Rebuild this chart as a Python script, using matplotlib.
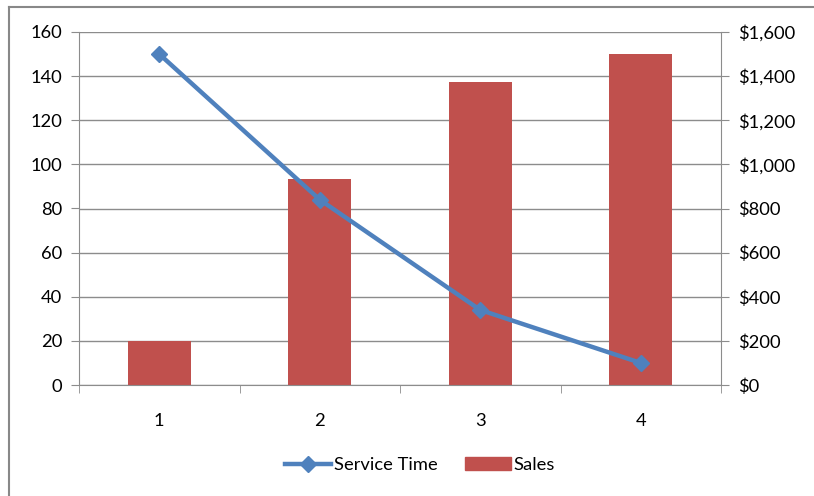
import matplotlib
matplotlib.use("Agg")
import matplotlib.pyplot as plt
from matplotlib.lines import Line2D
from matplotlib.patches import Patch
from matplotlib.ticker import FuncFormatter

categories = [1, 2, 3, 4]
service_time = [150, 84, 34, 10]
sales = [200, 935, 1375, 1500]
left_ticks = [0, 20, 40, 60, 80, 100, 120, 140, 160]
right_ticks = [0, 200, 400, 600, 800, 1000, 1200, 1400, 1600]

plt.rcParams['font.family'] = ['Lato', 'DejaVu Sans']

W, H = 814, 496
fig = plt.figure(figsize=(W / 100, H / 100), dpi=100)
ax = fig.add_axes([79 / W, 1 - 385 / H, (721 - 79) / W, (385 - 32) / H])
ax2 = ax.twinx()

line_col = '#4F81BD'
bar_col = '#C0504D'
grid_col = '#8C8C8C'
fs = 13.2

ax2.bar(categories, sales, width=0.39, color=bar_col, zorder=2)
ax2.set_ylim(0, 1600)
ax2.set_yticks(right_ticks)
ax2.yaxis.set_major_formatter(FuncFormatter(lambda v, p: f"${int(v):,}"))
ax2.grid(axis='y', color=grid_col, linewidth=1.0, zorder=0)
ax2.set_axisbelow(True)

ax.plot(categories, service_time, color=line_col, linewidth=3.2,
        marker='D', markersize=8, zorder=3)
ax.set_ylim(0, 160)
ax.set_yticks(left_ticks)
ax.set_xlim(0.5, 4.5)
ax.set_xticks(categories)
ax.set_xticks([0.5, 1.5, 2.5, 3.5, 4.5], minor=True)
ax.set_zorder(ax2.get_zorder() + 1)
ax.patch.set_visible(False)

for a in (ax, ax2):
    for s in a.spines.values():
        s.set_visible(False)

ax.spines['left'].set_visible(True)
ax.spines['left'].set_color(grid_col)
ax2.spines['right'].set_visible(True)
ax2.spines['right'].set_color(grid_col)
ax2.spines['bottom'].set_visible(True)
ax2.spines['bottom'].set_color(grid_col)

ax.tick_params(axis='y', length=6, color=grid_col, labelsize=fs, pad=6, labelcolor='#000000')
ax2.tick_params(axis='y', length=6, color=grid_col, labelsize=fs, pad=6, labelcolor='#000000')
ax.tick_params(axis='x', which='major', length=0, labelsize=fs, pad=20)
ax.tick_params(axis='x', which='minor', length=6, color=grid_col, direction='out')

handles = [Line2D([0], [0], color=line_col, linewidth=3.2, marker='D', markersize=8),
           Patch(facecolor=bar_col, edgecolor=bar_col)]
fig.legend(handles, ['Service Time', 'Sales'], loc='center', bbox_to_anchor=(420 / W, 1 - 465 / H),
           ncol=2, frameon=False, fontsize=fs, handlelength=2.5, handletextpad=0.15,
           columnspacing=1.5)

fig.add_artist(Line2D([9 / W, 9 / W], [0, 1 - 7 / H], transform=fig.transFigure, color='#888888', linewidth=1.5))
fig.add_artist(Line2D([9 / W, 1], [1 - 7 / H, 1 - 7 / H], transform=fig.transFigure, color='#888888', linewidth=1.5))

fig.savefig('out.png', dpi=100)
